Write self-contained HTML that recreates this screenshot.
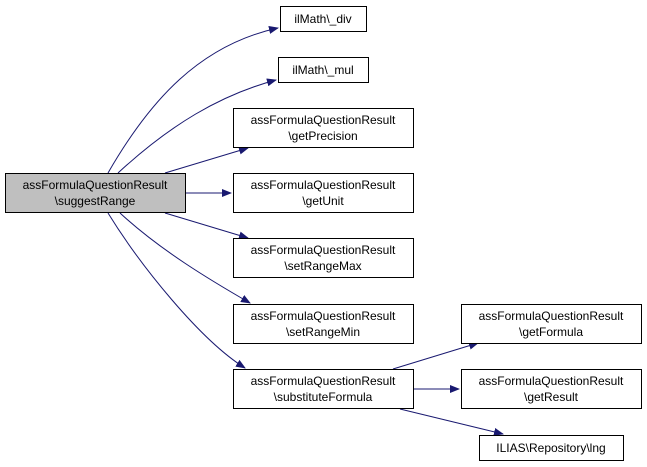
<!DOCTYPE html>
<html><head><style>
body{margin:0;background:#fff;}
svg{display:block;font-family:"Liberation Sans",sans-serif;font-size:12px;}
</style></head><body>
<svg width="647" height="467" viewBox="0 0 647 467">
<defs><marker id="a" markerWidth="10" markerHeight="8" refX="9" refY="4" orient="auto" markerUnits="userSpaceOnUse"><path d="M0,0 L10,4 L0,8 Z" fill="#191970"/></marker></defs>
<g fill="none" stroke="#191970" stroke-width="1" marker-end="url(#a)">
<path d="M108,173 C150,100 200,45 278,28"/>
<path d="M118,173 C170,125 220,95 276,80"/>
<path d="M165,173 L248,148"/>
<path d="M185,193 L231,193"/>
<path d="M165,213 L248,238"/>
<path d="M120,213 C160,250 210,280 250,303"/>
<path d="M108,213 C140,265 200,340 245,368"/>
<path d="M393,369 L478,343"/>
<path d="M413,389 L459,389"/>
<path d="M400,409 L503,434"/>
</g>
<g stroke="#000" stroke-width="1">
<rect x="5.5" y="173.5" width="180" height="39" fill="#bfbfbf"/>
<rect x="280.5" y="6.5" width="86" height="25" fill="#fff"/>
<rect x="278.5" y="57.5" width="90" height="25" fill="#fff"/>
<rect x="233.5" y="108.5" width="180" height="39" fill="#fff"/>
<rect x="233.5" y="173.5" width="180" height="39" fill="#fff"/>
<rect x="233.5" y="238.5" width="180" height="39" fill="#fff"/>
<rect x="233.5" y="304.5" width="180" height="39" fill="#fff"/>
<rect x="233.5" y="369.5" width="180" height="39" fill="#fff"/>
<rect x="461.5" y="304.5" width="180" height="39" fill="#fff"/>
<rect x="461.5" y="369.5" width="180" height="39" fill="#fff"/>
<rect x="479.5" y="435.5" width="144" height="25" fill="#fff"/>
</g>
<g text-anchor="middle" fill="#000">
<text x="95" y="189">assFormulaQuestionResult</text><text x="95" y="205">\suggestRange</text>
<text x="323" y="23">ilMath\_div</text>
<text x="323" y="74">ilMath\_mul</text>
<text x="323" y="124">assFormulaQuestionResult</text><text x="323" y="140">\getPrecision</text>
<text x="323" y="189">assFormulaQuestionResult</text><text x="323" y="205">\getUnit</text>
<text x="323" y="254">assFormulaQuestionResult</text><text x="323" y="270">\setRangeMax</text>
<text x="323" y="320">assFormulaQuestionResult</text><text x="323" y="336">\setRangeMin</text>
<text x="323" y="385">assFormulaQuestionResult</text><text x="323" y="401">\substituteFormula</text>
<text x="551" y="320">assFormulaQuestionResult</text><text x="551" y="336">\getFormula</text>
<text x="551" y="385">assFormulaQuestionResult</text><text x="551" y="401">\getResult</text>
<text x="551" y="452">ILIAS\Repository\lng</text>
</g>
</svg>
</body></html>
